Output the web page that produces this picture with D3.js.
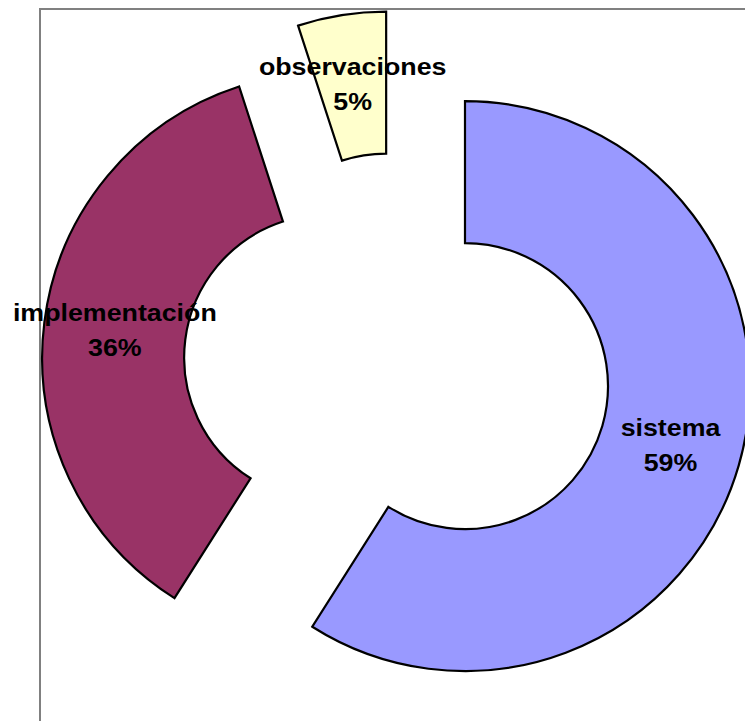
<!DOCTYPE html>
<html>
<head>
<meta charset="utf-8">
<script src="https://cdn.jsdelivr.net/npm/d3@7/dist/d3.min.js"></script>
<style>
  html, body { margin: 0; padding: 0; background: #ffffff; }
  svg { display: block; }
</style>
</head>
<body>
<svg id="chart" width="745" height="721"></svg>
<script>
const categories = ["sistema", "implementación", "observaciones"];
const values = [59, 36, 5];
const percentLabels = ["59%", "36%", "5%"];
const colors = ["#9999FF", "#993366", "#FFFFCC"];

const W = 745, H = 721;
const cx = 397.2, cy = 366.4;
const outerR = 285, innerR = 143;
const explode = 70.6;

const svg = d3.select("#chart");

// plot area frame
svg.append("rect")
  .attr("x", 40).attr("y", 9)
  .attr("width", 800).attr("height", 800)
  .attr("fill", "none")
  .attr("stroke", "#808080")
  .attr("stroke-width", 2);

const pie = d3.pie().sort(null).value(d => d)(values);
const arc = d3.arc().innerRadius(innerR).outerRadius(outerR);
const labelArc = d3.arc().innerRadius((innerR + outerR) / 2).outerRadius((innerR + outerR) / 2);

const color = d3.scaleOrdinal().domain(categories).range(colors);

function offset(d) {
  const a = (d.startAngle + d.endAngle) / 2;
  return [explode * Math.sin(a), -explode * Math.cos(a)];
}

const g = svg.append("g").attr("transform", `translate(${cx},${cy})`);

const slices = g.selectAll("g.slice")
  .data(pie)
  .enter().append("g")
  .attr("class", "slice")
  .attr("transform", d => { const o = offset(d); return `translate(${o[0]},${o[1]})`; });

slices.append("path")
  .attr("d", arc)
  .attr("fill", (d, i) => color(categories[i]))
  .attr("stroke", "#000")
  .attr("stroke-width", 2.2)
  .attr("stroke-linejoin", "miter");

const labels = g.selectAll("g.label")
  .data(pie)
  .enter().append("g")
  .attr("class", "label")
  .attr("transform", d => {
    const o = offset(d);
    const c = labelArc.centroid(d);
    return `translate(${c[0] + o[0]},${c[1] + o[1]}) scale(1.14,1)`;
  });

const text = labels.append("text")
  .attr("text-anchor", "middle")
  .attr("font-family", "'Liberation Sans', Arial, sans-serif")
  .attr("font-weight", "bold")
  .attr("font-size", 23.5)
  .attr("fill", "#000");

text.append("tspan").attr("x", 0).attr("y", -10).text((d, i) => categories[i]);
text.append("tspan").attr("x", 0).attr("y", 25).text((d, i) => percentLabels[i]);
</script>
</body>
</html>
